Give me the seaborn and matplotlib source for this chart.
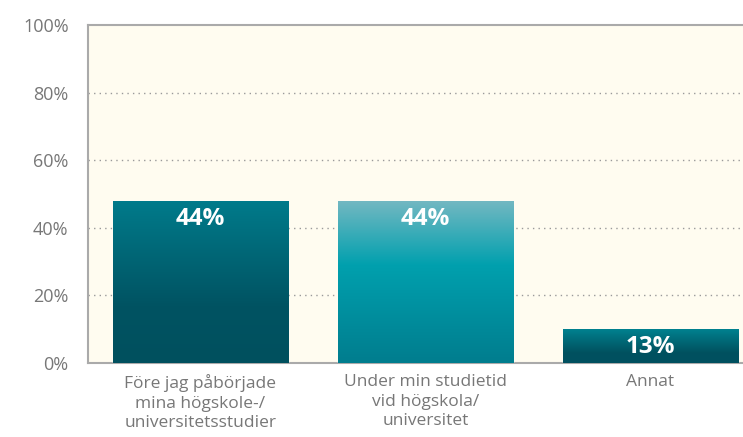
"""
Bar chart: när började du ... (andel svar)
"""
import numpy as np
import pandas as pd
import matplotlib.pyplot as plt
import matplotlib.colors as mcolors
import seaborn as sns

# data
categories = [
    "Före jag påbörjade\nmina högskole-/\nuniversitetsstudier",
    "Under min studietid\nvid högskola/\nuniversitet",
    "Annat",
]
bar_heights = [48, 48, 10]
bar_labels = ["44%", "44%", "13%"]
y_ticks = [0, 20, 40, 60, 80, 100]

# gradient stops for each bar (top -> bottom)
gradients = [
    [(0.0, "#007b8b"), (0.65, "#005362"), (1.0, "#00505e")],
    [(0.0, "#74b8c2"), (0.4, "#00a0ae"), (1.0, "#007d8e")],
    [(0.0, "#00818f"), (0.7, "#00515f"), (1.0, "#005060")],
]

df = pd.DataFrame({"kategori": categories, "andel": bar_heights})

sns.set_style("white")
plt.rcParams["font.family"] = ["Open Sans", "DejaVu Sans"]

fig = plt.figure(figsize=(7.43, 4.37), dpi=100)
ax = fig.add_axes([88 / 743, 74 / 437, 655 / 743, 338 / 437])
ax.set_facecolor("#fffcf0")

sns.barplot(data=df, x="kategori", y="andel", width=0.78, color="#006070",
            saturation=1, ax=ax, zorder=3)

ax.set_xlim(-0.5, -0.5 + 655 / 225)
ax.set_ylim(0, 100)

# replace flat fill with vertical gradients
for patch, stops in zip(ax.patches, gradients):
    x0, y0 = patch.get_x(), patch.get_y()
    w, h = patch.get_width(), patch.get_height()
    cmap = mcolors.LinearSegmentedColormap.from_list("g", stops)
    grad = np.linspace(0, 1, 256).reshape(-1, 1)
    im = ax.imshow(grad, cmap=cmap, aspect="auto", origin="upper",
                   extent=[x0, x0 + w, y0, y0 + h], zorder=3)
    im.set_clip_path(patch)
    patch.set_facecolor("none")

for patch, lab in zip(ax.patches, bar_labels):
    ax.annotate(lab, (patch.get_x() + patch.get_width() / 2, patch.get_height()),
                xytext=(0, -13), textcoords="offset points", ha="center",
                va="center", color="white", fontsize=17.5, fontweight="bold",
                zorder=5)

# grid lines
for y in y_ticks[1:-1]:
    ax.axhline(y, color="#9a9a9a", linestyle=(0, (1, 3)), linewidth=1, zorder=1)

ax.set_yticks(y_ticks)
ax.set_yticklabels([f"{v}%" for v in y_ticks])
ax.set_xticks(range(len(categories)))
ax.set_xticklabels(categories)
ax.set_xticks([-0.5, 0.5, 1.5], minor=True)
ax.set_xlabel("")
ax.set_ylabel("")

ax.tick_params(axis="y", length=8, width=1.2, color="#aaaaaa", labelsize=13,
               labelcolor="#777777", pad=6)
ax.tick_params(axis="x", which="major", length=0, labelsize=12.5,
               labelcolor="#777777", pad=8)
ax.tick_params(axis="x", which="minor", length=8, width=1.2, color="#aaaaaa")
for lab in ax.get_xticklabels():
    lab.set_linespacing(1.3)

for side in ["left", "bottom", "top"]:
    ax.spines[side].set_color("#aaaaaa")
    ax.spines[side].set_linewidth(1.5)
ax.spines["right"].set_visible(False)

fig.savefig("out.png", dpi=100)
